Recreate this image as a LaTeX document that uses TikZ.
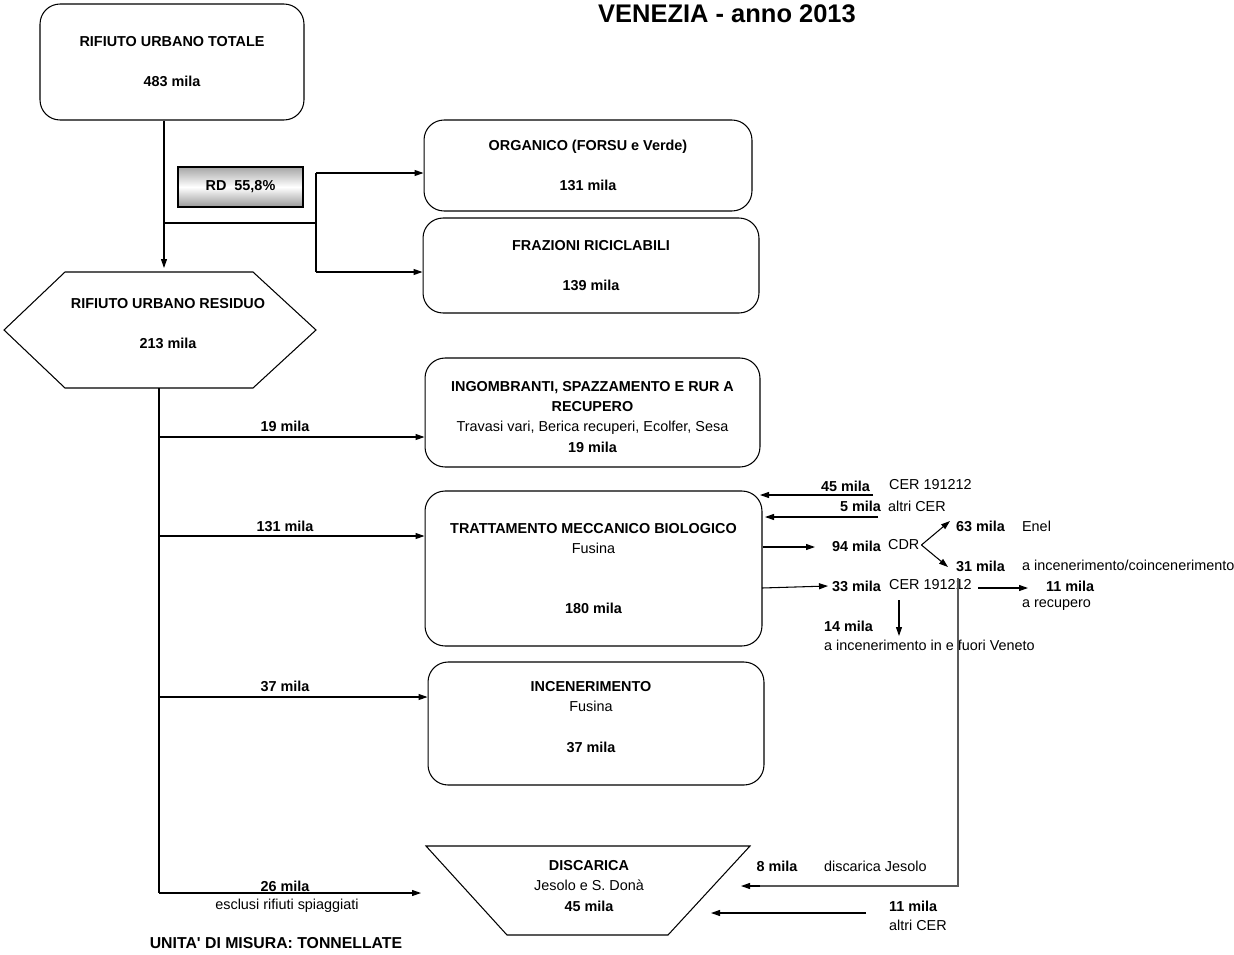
\documentclass[tikz,border=0pt]{standalone}
\usepackage{fontspec}
\setmainfont{Liberation Sans}
\usetikzlibrary{arrows.meta}
\tikzset{
  box/.style={draw, rounded corners=0.4cm, align=center, line width=0.6pt},
  arr/.style={-{Triangle[length=0.18cm,width=0.12cm]}, line width=0.6pt},
  ln/.style={line width=0.6pt},
  lbl/.style={inner sep=1pt},
  bf/.style={lbl, font=\fontsize{8.2}{11.4}\selectfont\bfseries},
}
\begin{document}
\begin{tikzpicture}[x=0.02cm,y=-0.02cm,every node/.style={font=\fontsize{8.2}{11.4}\selectfont}]
\useasboundingbox (0,0) rectangle (1234,954);
\node[font=\fontsize{14.5}{17}\selectfont\bfseries] (title) at (727,14) {VENEZIA - anno 2013};
% top part
\node[box, font=\fontsize{8.2}{11.4}\selectfont\bfseries, minimum width=5.28cm, minimum height=2.32cm] (tot) at (172,62) {RIFIUTO URBANO TOTALE\\[11.4pt]483 mila};
\node[draw, line width=1pt, top color=gray!70, bottom color=gray!80, middle color=white, font=\fontsize{8.2}{11.4}\selectfont\bfseries, minimum width=2.5cm, minimum height=0.8cm] (rd) at (240.5,187) {RD~~55,8\%};
\node[box, font=\fontsize{8.2}{11.4}\selectfont\bfseries, minimum width=6.56cm, minimum height=1.82cm] (org) at (588,165.5) {ORGANICO (FORSU e Verde)\\[11.4pt]131 mila};
\node[box, font=\fontsize{8.2}{11.4}\selectfont\bfseries, minimum width=6.72cm, minimum height=1.9cm] (fraz) at (591,265.5) {FRAZIONI RICICLABILI\\[11.4pt]139 mila};
% residuo
\draw[ln] (65,272) -- (253,272) -- (316,330) -- (253,388) -- (65,388) -- (4,330) -- cycle;
\node[align=center, font=\fontsize{8.2}{11.4}\selectfont\bfseries] (res) at (168,324) {RIFIUTO URBANO RESIDUO\\[11.4pt]213 mila};
\coordinate (restop) at (164,268);
\coordinate (resbot) at (159,388);
\coordinate (split) at (164,223);
\coordinate (fork) at (316,223);
\coordinate (f1) at (316,173);
\coordinate (f2) at (316,272);
\draw[arr] (tot.south -| restop) -- (restop);
\draw[ln] (split) -- (fork);
\draw[ln] (f1) -- (f2);
\draw[arr] (f1) -- (f1 -| org.west);
\draw[arr] (f2) -- (f2 -| fraz.west);
% destinations of the residual
\node[box, minimum width=6.7cm, minimum height=2.18cm] (ingom) at (592.5,412.5) {};
\node[align=center] (ingomtxt) at (592.5,417) {\textbf{INGOMBRANTI, SPAZZAMENTO E RUR A}\\\textbf{RECUPERO}\\Travasi vari, Berica recuperi, Ecolfer, Sesa\\\textbf{19 mila}};
\node[box, minimum width=6.74cm, minimum height=3.1cm] (tmb) at (593.5,568.5) {\textbf{TRATTAMENTO MECCANICO BIOLOGICO}\\Fusina\\[22.8pt]\textbf{180 mila}};
\node[box, minimum width=6.72cm, minimum height=2.46cm] (ince) at (596,723.5) {};
\node[align=center] (incetxt) at (591,717) {\textbf{INCENERIMENTO}\\Fusina\\[11.4pt]\textbf{37 mila}};
\draw[ln] (426,846) -- (750,846) -- (668,935) -- (507,935) -- cycle;
\node[align=center] (disc) at (589,886) {\textbf{DISCARICA}\\Jesolo e S. Donà\\\textbf{45 mila}};
\coordinate (s1) at (159,437);
\coordinate (s2) at (159,536);
\coordinate (s3) at (159,697);
\coordinate (s4) at (159,893);
\coordinate (d4) at (421,893);
\draw[ln] (resbot) -- (s4);
\draw[arr] (s1) -- (s1 -| ingom.west);
\draw[arr] (s2) -- (s2 -| tmb.west);
\draw[arr] (s3) -- (s3 -| ince.west);
\draw[arr] (s4) -- (d4);
\node[bf] (m19) at (285,426) {19 mila};
\node[bf] (m131) at (285,526) {131 mila};
\node[bf] (m37) at (285,686) {37 mila};
\node[bf] (m26) at (285,886) {26 mila};
\node[lbl] (spiag) at (287,906) {esclusi rifiuti spiaggiati};
% flows around TMB
\node[bf, anchor=east] (m45) at (872,486) {45 mila};
\node[lbl, anchor=west] (c45) at (887,485) {CER 191212};
\node[bf, anchor=east] (m5) at (883,506) {5 mila};
\node[lbl, anchor=west] (c5) at (886,506) {altri CER};
\draw[arr] (873,495) -- (760,495);
\draw[arr] (878,517) -- (765,517);
\node[bf, anchor=east] (m94) at (883,546) {94 mila};
\node[lbl, anchor=west] (cdr) at (886,545) {CDR};
\draw[arr] (tmb.east |- 0,547) -- (815,547);
\node[bf, anchor=west] (m63) at (954,526) {63 mila};
\node[lbl, anchor=west] (enel) at (1020,526) {Enel};
\node[bf, anchor=west] (m31) at (954,566) {31 mila};
\node[lbl, anchor=west] (coinc) at (1020,565) {a incenerimento/coincenerimento};
\draw[arr] (cdr.east) -- (950,521);
\draw[arr] (cdr.east) -- (948,567);
\node[bf, anchor=east] (m33) at (883,586) {33 mila};
\node[lbl, anchor=west] (c33) at (887,585) {CER 191212};
\draw[arr] (762,588) -- (828,586);
\node[bf, anchor=west] (m11r) at (1044,586) {11 mila};
\node[lbl, anchor=west] (recup) at (1020,605) {a recupero};
\draw[arr] (978,588) -- (1028,588);
\node[bf, anchor=west] (m14) at (822,626) {14 mila};
\node[lbl, anchor=west] (fuori) at (822,645) {a incenerimento in e fuori Veneto};
\draw[arr] (899,600) -- (899,636);
% to discarica
\coordinate (jes) at (958,578);
\draw[ln, draw=black!65] (jes) -- (958,886) -- (752,886);
\draw[arr] (760,886) -- (741,886);
\node[bf] (m8) at (777,866) {8 mila};
\node[lbl, anchor=west] (cjes) at (822,866) {discarica Jesolo};
\draw[arr] (866,913) -- (711,913);
\node[bf, anchor=west] (m11) at (887,906) {11 mila};
\node[lbl, anchor=west] (altri) at (887,925) {altri CER};
\node[bf, font=\fontsize{9}{11.4}\selectfont\bfseries] (unita) at (276,943) {UNITA\textquotesingle{} DI MISURA: TONNELLATE};
\end{tikzpicture}
\end{document}
